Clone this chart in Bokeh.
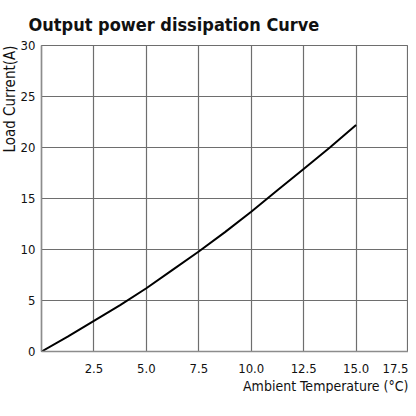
from bokeh.plotting import figure
from bokeh.models import Title, FixedTicker, Range1d, NumeralTickFormatter
from bokeh.embed import file_html
from bokeh.resources import INLINE

# curve
temp = [0, 1.25, 2.5, 3.75, 5.0, 6.25, 7.5, 8.75, 10.0, 11.25, 12.5, 13.75, 15.0]
current = [0, 1.45, 3.0, 4.55, 6.2, 8.0, 9.8, 11.7, 13.7, 15.8, 17.9, 20.0, 22.2]

x_ticks = [2.5, 5.0, 7.5, 10.0, 12.5, 15.0, 17.5]
y_ticks = [0, 5, 10, 15, 20, 25, 30]

FONT = "'DejaVu Sans Condensed', 'Roboto Condensed', 'Liberation Sans Narrow', Roboto, sans-serif"
GRID = "#6e6e6e"

p = figure(width=408, height=393, output_backend="svg", toolbar_location=None,
           x_range=Range1d(0, 17.5), y_range=Range1d(0, 30),
           min_border_left=30, min_border_right=0, min_border_top=38,
           min_border_bottom=0)

p.title = Title(text="Output power dissipation Curve", align="left",
                text_font=FONT, text_font_size="18px", text_font_style="bold",
                text_color="#111111", offset=-13, standoff=22)

p.add_layout(Title(text="Load Current(A)", align="right", text_font=FONT,
                   text_font_size="15px", text_font_style="normal",
                   text_color="#111111", standoff=-3, offset=0), "left")
p.add_layout(Title(text="Ambient Temperature (°C)", align="right", text_font=FONT,
                   text_font_size="14px", text_font_style="normal",
                   text_color="#111111", standoff=0, offset=0), "below")

p.line(temp, current, line_color="#000000", line_width=2)

p.xaxis.ticker = FixedTicker(ticks=x_ticks)
p.yaxis.ticker = FixedTicker(ticks=y_ticks)
p.xaxis.formatter = NumeralTickFormatter(format="0.0")
p.xgrid.ticker = FixedTicker(ticks=x_ticks)
p.ygrid.ticker = FixedTicker(ticks=y_ticks)

for ax in (p.xaxis, p.yaxis):
    ax.major_tick_line_color = None
    ax.minor_tick_line_color = None
    ax.axis_line_color = "#8c8c8c"
    ax.axis_line_width = 1.5
    ax.major_label_text_font = FONT
    ax.major_label_text_font_size = "13px"
    ax.major_label_text_color = "#111111"
p.xaxis.major_label_standoff = 6
p.yaxis.major_label_standoff = 0

for g in (p.xgrid, p.ygrid):
    g.grid_line_color = GRID
    g.grid_line_width = 1.2

p.outline_line_color = GRID
p.outline_line_width = 1.2
p.background_fill_color = "#ffffff"
p.border_fill_color = "#ffffff"

open("out.html", "w").write(file_html(p, INLINE))
